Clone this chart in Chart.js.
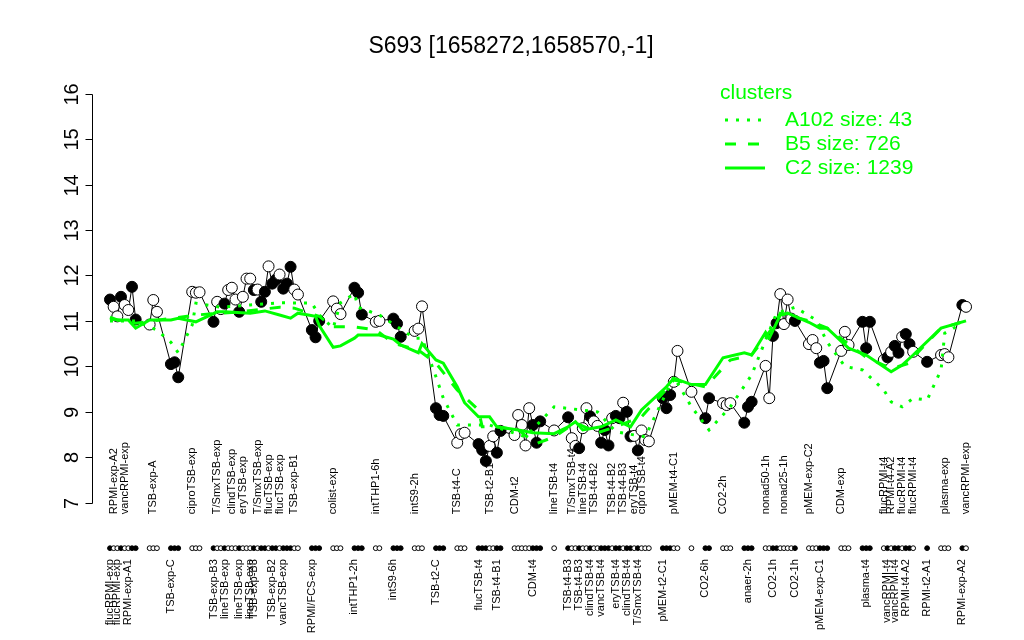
<!DOCTYPE html>
<html>
<head>
<meta charset="utf-8">
<script src="https://cdn.jsdelivr.net/npm/chart.js@4.4.0/dist/chart.umd.min.js"></script>
<style>
    html, body { margin: 0; padding: 0; background: #fff; }
</style>
</head>
<body>
<canvas id="grafico" width="1024" height="640"></canvas>
<script>
const titulo = 'S693 [1658272,1658570,-1]';

// valores de cada amostra, na ordem do eixo x
const valores = [
    11.47, 11.31, 11.10, 11.53, 11.35, 11.24, 11.75, 11.03, 10.92, 11.46,
    11.20, 10.05, 10.09, 9.76, 11.64, 11.62, 11.63, 10.98, 11.42, 11.26,
    11.38, 11.68, 11.73, 11.47, 11.20, 11.53, 11.93, 11.93, 11.68, 11.69,
    11.42, 11.64, 12.20, 11.82, 11.91, 12.02, 11.71, 11.82, 12.19, 11.69,
    11.58, 10.80, 10.64, 11.00, 11.43, 11.27, 11.15, 11.73, 11.62, 11.14,
    10.98, 11.00, 11.05, 10.94, 10.65, 10.78, 10.83, 11.32, 9.08, 8.93,
    8.91, 8.32, 8.51, 8.54, 8.29, 8.16, 7.92, 8.25, 8.46, 8.10,
    8.58, 8.49, 8.93, 8.71, 8.26, 9.08, 8.71, 8.32, 8.79, 8.59,
    8.88, 8.42, 8.25, 8.20, 8.64, 9.08, 8.90, 8.79, 8.69, 8.32,
    8.60, 8.26, 8.86, 8.91, 8.86, 9.20, 9.00, 8.46, 8.47, 8.15,
    8.59, 8.38, 8.35, 9.30, 9.08, 9.37, 9.66, 10.34, 9.44, 8.86,
    9.30, 9.19, 9.15, 9.19, 8.76, 9.11, 9.22, 10.01, 9.30, 10.67,
    10.95, 11.59, 10.93, 11.47, 11.05, 11.00, 10.49, 10.58, 10.40, 10.08,
    10.12, 9.52, 10.34, 10.76, 10.47, 10.98, 10.40, 10.98, 10.14, 10.20,
    10.32, 10.45, 10.30, 10.65, 10.71, 10.49, 10.32, 10.10, 10.25, 10.27,
    10.20, 11.35, 11.31
];

// 1 = ponto cheio, 0 = ponto vazio
const cheios = [
    1, 0, 0, 1, 0, 0, 1, 1, 0, 0, 0, 1, 1, 1, 0, 0, 0, 1, 0, 0,
    1, 0, 0, 0, 1, 0, 0, 0, 1, 0, 1, 1, 0, 1, 1, 0, 1, 1, 1, 0,
    0, 1, 1, 1, 0, 0, 0, 1, 1, 1, 0, 0, 1, 1, 1, 0, 0, 0, 1, 1,
    1, 0, 0, 0, 1, 1, 1, 0, 0, 1, 1, 0, 0, 0, 0, 0, 1, 1, 1, 0,
    1, 0, 0, 1, 0, 0, 1, 0, 0, 1, 1, 1, 0, 1, 1, 0, 1, 1, 0, 1,
    0, 0, 0, 1, 1, 1, 0, 0, 0, 1, 1, 0, 0, 0, 1, 1, 1, 0, 0, 1,
    1, 0, 0, 0, 0, 1, 0, 0, 0, 1, 1, 1, 0, 0, 0, 1, 1, 1, 0, 1,
    0, 1, 1, 0, 1, 1, 0, 1, 0, 0, 0, 1, 0
];

// tamanho de cada grupo de amostras (separados por um espaco no eixo)
const grupos = [8, 3, 3, 3, 24, 3, 3, 3, 2, 3, 3, 3, 3, 7, 8, 1, 23, 5, 1, 2,
    3, 3, 9, 6, 3, 3, 9, 1, 3, 2];

// nomes mostrados abaixo da fileira de pontos (posicao = numero da amostra)
const idxBaixo = [1, 3, 6, 12, 18, 21, 25, 28, 29, 34, 37, 42, 48, 53, 59, 65, 70, 77, 81, 84,
    87, 90, 94, 97, 100, 104, 110, 116, 120, 126, 130, 137, 140, 142, 145, 148, 152];
const nomesBaixo = ['flucRPMI-exp', 'flucRPMI-exp', 'RPMI-exp-A1', 'TSB-exp-C', 'TSB-exp-B3',
    'lineTSB-exp', 'lineTSB-exp', 'lineTSB-exp', 'TSB-exp-B3', 'TSB-exp-B2', 'vancTSB-exp',
    'RPMI/FCS-exp', 'intTHP1-2h', 'intS9-6h', 'TSB-t2-C', 'flucTSB-t4', 'TSB-t4-B1', 'CDM-t4',
    'TSB-t4-B3', 'TSB-t4-B3', 'clindTSB-t4', 'vancTSB-t4', 'eryTSB-t4', 'clindTSB-t4',
    'T/SmxTSB-t4', 'pMEM-t2-C1', 'CO2-6h', 'anaer-2h', 'CO2-1h', 'CO2-1h', 'pMEM-exp-C1',
    'plasma-t4', 'vancRPMI-t4', 'vancRPMI-t4', 'RPMI-t4-A2', 'RPMI-t2-A1', 'RPMI-exp-A2'];

// nomes mostrados acima da fileira de pontos
const idxCima = [2, 5, 10, 15, 19, 23, 26, 30, 33, 36, 40, 45, 51, 56, 62, 68, 72, 80, 82, 85,
    88, 93, 96, 99, 101, 107, 112, 118, 123, 127, 133, 139, 141, 144, 147, 150, 153];
const nomesCima = ['RPMI-exp-A2', 'vancRPMI-exp', 'TSB-exp-A', 'ciproTSB-exp', 'T/SmxTSB-exp',
    'clindTSB-exp', 'eryTSB-exp', 'T/SmxTSB-exp', 'flucTSB-exp', 'flucTSB-exp', 'TSB-exp-B1',
    'colist-exp', 'intTHP1-6h', 'intS9-2h', 'TSB-t4-C', 'TSB-t2-B1', 'CDM-t2', 'lineTSB-t4',
    'T/SmxTSB-t4', 'lineTSB-t4', 'TSB-t4-B2', 'TSB-t4-B2', 'TSB-t4-B3', 'eryTSB-t4',
    'ciproTSB-t4', 'pMEM-t4-C1', 'CO2-2h', 'nonad50-1h', 'nonad25-1h', 'pMEM-exp-C2',
    'CDM-exp', 'flucRPMI-t4', 'RPMI-t4-A2', 'flucRPMI-t4', 'flucRPMI-t4', 'plasma-exp',
    'vancRPMI-exp'];

const yTicks = [7, 8, 9, 10, 11, 12, 13, 14, 15, 16];

// clusters (amostra, valor)
const c2Idx = [1, 3, 6, 8, 9, 12, 14, 16, 19, 21, 28, 32, 36, 39, 41, 43, 44, 45, 47, 48,
    49, 52, 53, 55, 57, 58, 59, 61, 62, 64, 65, 68, 70, 73, 77, 80, 81, 83, 85, 90,
    94, 98, 101, 105, 107, 109, 110, 112, 115, 117, 118, 119, 122, 124, 127, 130, 132, 135, 137, 141,
    144, 147, 149, 153];
const c2Val = [11.08, 11.02, 11.02, 10.84, 11.02, 11.02, 11.06, 10.98, 11.2, 11.2, 11.17, 11.22,
    11.13, 11.06, 11.17, 11.1, 10.9, 10.42, 10.45, 10.62, 10.69, 10.69, 10.6, 10.47, 10.3, 10.5,
    10.14, 10.07, 9.55, 9.2, 8.89, 8.89, 8.67, 8.6, 8.54, 8.52, 8.67, 8.78, 8.6, 8.67, 8.82, 8.67,
    9.04, 9.55, 9.74, 9.6, 9.6, 10.19, 10.3, 10.25, 10.75, 10.62, 11.13, 11.17, 10.97, 10.84,
    10.84, 10.4, 10.25, 9.88, 10.03, 10.25, 10.84, 11.0];

const b5Idx = [1, 8, 16, 25, 36, 40, 44, 45, 48, 51, 53, 57, 59, 62, 65, 66, 70, 73, 78, 80,
    83, 89, 94, 101, 104, 107, 110, 114, 117, 120, 122, 127, 132, 137, 141, 146, 147, 149, 153];
const b5Val = [11.05, 10.95, 11.13, 11.2, 11.3, 11.28, 11.1, 10.87, 10.87, 10.8, 10.51, 10.36,
    10.07, 9.48, 9.04, 8.67, 8.67, 8.6, 8.3, 8.45, 8.76, 8.54, 8.67, 8.89, 9.41, 9.7, 9.55,
    10.14, 10.25, 10.86, 11.17, 11.0, 10.84, 10.2, 9.95, 10.07, 10.2, 10.84, 11.0];

const a102Idx = [1, 8, 11, 12, 14, 15, 16, 20, 28, 36, 42, 44, 45, 47, 48, 49, 52, 56, 58, 59,
    61, 62, 68, 75, 80, 89, 94, 102, 107, 109, 111, 114, 117, 118, 121, 126, 129, 132, 134, 136,
    139, 141, 144, 147, 148, 149, 150, 152];
const a102Val = [11.0, 11.0, 10.8, 10.53, 10.3, 10.91, 11.39, 11.3, 11.35, 11.4, 11.39, 11.13,
    10.84, 11.4, 11.6, 11.3, 11.13, 10.62, 10.62, 9.77, 9.3, 8.71, 8.71, 8.45, 9.11, 9.0, 8.56,
    8.45, 9.77, 9.11, 8.6, 9.11, 9.81, 10.58, 11.17, 11.3, 11.02, 10.53, 10.0, 9.92, 9.48, 9.22,
    9.11, 9.3, 9.26, 9.92, 10.73, 10.95];

const legendaTitulo = 'clusters';
const legendaNomes = ['A102 size: 43', 'B5 size: 726', 'C2 size: 1239'];

const fonte = '"Liberation Sans", Arial, Helvetica, sans-serif';
const verde = '#00ff00';
const tracos = [[3, 8], [11, 12], []];
const espacoGrupo = 2.8;

// posicao de cada amostra no eixo x: numero da amostra + espaco entre grupos
const posicao = [];
grupos.forEach((tam, g) => {
    for (let k = 0; k < tam; k++) {
        posicao.push(posicao.length + 1 + g * espacoGrupo);
    }
});

function pares(idx, vals) {
    return idx.map((n, i) => ({ x: posicao[n - 1], y: vals[i] }));
}

const pontosAmostra = valores.map((v, i) => ({ x: posicao[i], y: v }));
const fileira = valores.map((v, i) => ({ x: posicao[i], y: 6 }));
const corPonto = cheios.map(c => c ? '#000000' : '#ffffff');

const primeiro = posicao[0];
const ultimo = posicao[posicao.length - 1];
const folga = (ultimo - primeiro) * 0.021;

const extras = {
    id: 'extras',
    afterDatasetsDraw(chart) {
        const ctx = chart.ctx;
        const sx = chart.scales.x;
        const sy = chart.scales.y;
        const x0 = Math.round(chart.chartArea.left) + 0.5;

        ctx.save();
        ctx.fillStyle = '#000';
        ctx.strokeStyle = '#000';
        ctx.lineWidth = 1;

        // titulo
        ctx.font = `23px ${fonte}`;
        ctx.textAlign = 'center';
        ctx.textBaseline = 'middle';
        ctx.fillText(titulo, 511, 47);

        // eixo y
        ctx.beginPath();
        ctx.moveTo(x0, Math.round(sy.getPixelForValue(yTicks[0])) + 0.5);
        ctx.lineTo(x0, Math.round(sy.getPixelForValue(yTicks[yTicks.length - 1])) + 0.5);
        ctx.stroke();
        ctx.font = `20px ${fonte}`;
        yTicks.forEach(t => {
            const py = Math.round(sy.getPixelForValue(t)) + 0.5;
            ctx.beginPath();
            ctx.moveTo(x0 - 7, py);
            ctx.lineTo(x0, py);
            ctx.stroke();
            ctx.save();
            ctx.translate(x0 - 20, py);
            ctx.rotate(-Math.PI / 2);
            ctx.fillText(String(t), 0, 0);
            ctx.restore();
        });

        // nomes das amostras
        const yFila = sy.getPixelForValue(6);
        ctx.font = `11px ${fonte}`;
        ctx.textBaseline = 'middle';
        idxBaixo.forEach((n, i) => {
            ctx.save();
            ctx.translate(sx.getPixelForValue(posicao[n - 1]), yFila + 11);
            ctx.rotate(-Math.PI / 2);
            ctx.textAlign = 'right';
            ctx.fillText(nomesBaixo[i], 0, 0);
            ctx.restore();
        });
        idxCima.forEach((n, i) => {
            ctx.save();
            ctx.translate(sx.getPixelForValue(posicao[n - 1]), yFila - 34);
            ctx.rotate(-Math.PI / 2);
            ctx.textAlign = 'left';
            ctx.fillText(nomesCima[i], 0, 0);
            ctx.restore();
        });

        // legenda
        ctx.fillStyle = verde;
        ctx.strokeStyle = verde;
        ctx.font = `21px ${fonte}`;
        ctx.textAlign = 'left';
        ctx.fillText(legendaTitulo, 720, 93);
        legendaNomes.forEach((nome, i) => {
            const ly = 120 + i * 24;
            ctx.lineWidth = 3;
            ctx.setLineDash(tracos[i]);
            ctx.beginPath();
            ctx.moveTo(725, ly);
            ctx.lineTo(765, ly);
            ctx.stroke();
            ctx.setLineDash([]);
            ctx.fillText(nome, 785, ly);
        });
        ctx.restore();
    }
};

new Chart(document.getElementById('grafico'), {
    type: 'scatter',
    data: {
        datasets: [
            {
                label: legendaNomes[0],
                data: pares(a102Idx, a102Val),
                showLine: true,
                borderColor: verde,
                borderWidth: 3,
                borderDash: tracos[0],
                pointRadius: 0
            },
            {
                label: legendaNomes[1],
                data: pares(b5Idx, b5Val),
                showLine: true,
                borderColor: verde,
                borderWidth: 3,
                borderDash: tracos[1],
                pointRadius: 0
            },
            {
                label: legendaNomes[2],
                data: pares(c2Idx, c2Val),
                showLine: true,
                borderColor: verde,
                borderWidth: 3,
                pointRadius: 0
            },
            {
                label: 'amostras',
                data: pontosAmostra,
                showLine: true,
                borderColor: '#000000',
                borderWidth: 1,
                pointRadius: 5.5,
                pointBackgroundColor: corPonto,
                pointBorderColor: '#000000',
                pointBorderWidth: 1
            },
            {
                label: 'fileira',
                data: fileira,
                showLine: false,
                pointRadius: 2.4,
                pointBackgroundColor: corPonto,
                pointBorderColor: '#000000',
                pointBorderWidth: 1
            }
        ]
    },
    options: {
        responsive: false,
        animation: false,
        devicePixelRatio: 1,
        layout: {
            padding: { left: 92, right: 40, top: 80, bottom: 10 }
        },
        plugins: {
            legend: { display: false },
            title: { display: false },
            tooltip: { enabled: false }
        },
        scales: {
            x: {
                display: false,
                min: primeiro - folga,
                max: ultimo + folga
            },
            y: {
                display: false,
                min: 4.2,
                max: 16.3
            }
        }
    },
    plugins: [extras]
});
</script>
</body>
</html>
